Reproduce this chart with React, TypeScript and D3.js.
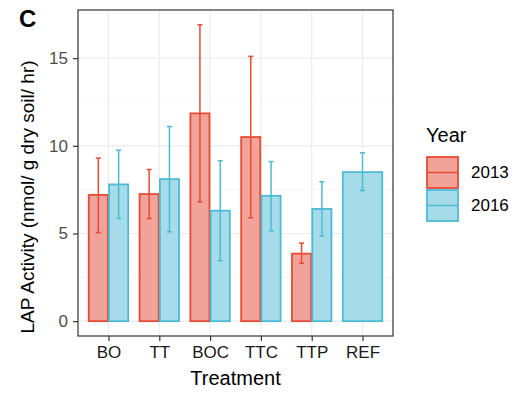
import { useEffect, useRef } from "react"
import * as d3 from "d3"

const treatments = ["BO", "TT", "BOC", "TTC", "TTP", "REF"]
const years = ["2013", "2016"]
const mean2013 = [7.2, 7.25, 11.85, 10.5, 3.85, null]
const low2013 = [5.05, 5.85, 6.8, 5.9, 3.3, null]
const high2013 = [9.3, 8.65, 16.9, 15.1, 4.45, null]
const mean2016 = [7.8, 8.1, 6.3, 7.15, 6.4, 8.5]
const low2016 = [5.85, 5.1, 3.45, 5.15, 4.85, 7.45]
const high2016 = [9.75, 11.1, 9.15, 9.1, 7.95, 9.6]
const yTicks = [0, 5, 10, 15]

const stroke = { "2013": "#E64B35", "2016": "#4DBBD5" }
const fill = { "2013": "#F2A399", "2016": "#A6DCE9" }

export default function App() {
  const svgRef = useRef<SVGSVGElement>(null)

  useEffect(() => {
    if (!svgRef.current) return
    const svg = d3.select(svgRef.current)
    svg.selectAll("*").remove()

    const left = 78
    const right = 393
    const top = 10
    const bottom = 336
    const font = "Liberation Sans, Arial, sans-serif"

    const rows = treatments.flatMap((t, i) => {
      const r: { t: string; year: string; v: number; lo: number; hi: number; n: number; k: number }[] = []
      const both = mean2013[i] != null
      if (both) r.push({ t, year: "2013", v: mean2013[i]!, lo: low2013[i]!, hi: high2013[i]!, n: 2, k: 0 })
      r.push({ t, year: "2016", v: mean2016[i], lo: low2016[i], hi: high2016[i], n: both ? 2 : 1, k: both ? 1 : 0 })
      return r
    })

    const x = d3.scalePoint().domain(treatments).range([left, right]).padding(0.6)
    const step = x.step()
    const yMax = d3.max(rows, (d) => d.hi)!
    const y = d3.scaleLinear().domain([-0.05 * yMax, 1.05 * yMax]).range([bottom, top])

    // panel background + grid
    svg.append("rect").attr("x", left).attr("y", top).attr("width", right - left).attr("height", bottom - top).attr("fill", "white")
    const minor = [2.5, 7.5, 12.5]
    svg.selectAll(".minor").data(minor).enter().append("line")
      .attr("x1", left).attr("x2", right).attr("y1", (d) => y(d)).attr("y2", (d) => y(d))
      .attr("stroke", "#F2F2F2").attr("stroke-width", 0.6)
    svg.selectAll(".hgrid").data(yTicks).enter().append("line")
      .attr("x1", left).attr("x2", right).attr("y1", (d) => y(d)).attr("y2", (d) => y(d))
      .attr("stroke", "#EBEBEB").attr("stroke-width", 1.2)
    svg.selectAll(".vgrid").data(treatments).enter().append("line")
      .attr("y1", top).attr("y2", bottom).attr("x1", (d) => x(d)!).attr("x2", (d) => x(d)!)
      .attr("stroke", "#EBEBEB").attr("stroke-width", 1.2)

    const barX = (d: any) => {
      const w = (step * 0.8) / d.n
      return x(d.t)! - step * 0.4 + d.k * w
    }
    const barW = (d: any) => (step * 0.8) / d.n

    svg.selectAll(".bar").data(rows).enter().append("rect")
      .attr("x", (d) => barX(d) + 0.6)
      .attr("width", (d) => barW(d) - 1.2)
      .attr("y", (d) => y(d.v))
      .attr("height", (d) => y(0) - y(d.v))
      .attr("fill", (d) => fill[d.year as "2013"])
      .attr("stroke", (d) => stroke[d.year as "2013"])
      .attr("stroke-width", 1.8)

    const ebar = svg.selectAll(".err").data(rows).enter().append("g")
    const cx = (d: any) => barX(d) + barW(d) / 2
    ebar.append("line")
      .attr("x1", cx).attr("x2", cx)
      .attr("y1", (d) => y(d.lo)).attr("y2", (d) => y(d.hi))
      .attr("stroke", (d) => stroke[d.year as "2013"]).attr("stroke-width", 1.5)
    ebar.selectAll("line.cap").data((d) => [{ d, v: d.lo }, { d, v: d.hi }]).enter().append("line")
      .attr("x1", (e) => cx(e.d) - 2.5).attr("x2", (e) => cx(e.d) + 2.5)
      .attr("y1", (e) => y(e.v)).attr("y2", (e) => y(e.v))
      .attr("stroke", (e) => stroke[e.d.year as "2013"]).attr("stroke-width", 1.5)

    // border
    svg.append("rect").attr("x", left).attr("y", top).attr("width", right - left).attr("height", bottom - top)
      .attr("fill", "none").attr("stroke", "#333333").attr("stroke-width", 1.2)

    // axes
    const yAxis = svg.append("g").attr("transform", `translate(${left},0)`)
      .call(d3.axisLeft(y).tickValues(yTicks).tickSize(5).tickPadding(5))
    yAxis.select(".domain").remove()
    yAxis.selectAll("line").attr("stroke", "#333333").attr("stroke-width", 1.2)
    yAxis.selectAll("text").attr("fill", "#4D4D4D").style("font-size", "17px").style("font-family", font)

    const xAxis = svg.append("g").attr("transform", `translate(0,${bottom})`)
      .call(d3.axisBottom(x).tickSize(5).tickPadding(5))
    xAxis.select(".domain").remove()
    xAxis.selectAll("line").attr("stroke", "#333333").attr("stroke-width", 1.2)
    xAxis.selectAll("text").attr("fill", "#1A1A1A").style("font-size", "17px").style("font-family", font)

    svg.append("text").attr("x", (left + right) / 2).attr("y", 385).attr("text-anchor", "middle")
      .style("font-size", "20px").style("font-family", font).text("Treatment")

    svg.append("text").attr("transform", `translate(34,197) rotate(-90)`)
      .attr("text-anchor", "middle").style("font-size", "19px").style("font-family", font)
      .text("LAP Activity (nmol/ g dry soil/ hr)")

    svg.append("text").attr("x", 19).attr("y", 27).style("font-size", "24px").style("font-weight", "bold")
      .style("font-family", font).text("C")

    // legend
    const lg = svg.append("g").attr("transform", "translate(426,0)")
    lg.append("text").attr("x", 0).attr("y", 141.5).style("font-size", "20px").style("font-family", font).text("Year")
    years.forEach((yr, i) => {
      const ky = 157 + i * 33
      lg.append("rect").attr("x", 1).attr("y", ky).attr("width", 31).attr("height", 31)
        .attr("fill", fill[yr as "2013"]).attr("stroke", stroke[yr as "2013"]).attr("stroke-width", 1.8)
      lg.append("line").attr("x1", 1).attr("x2", 32).attr("y1", ky + 15.5).attr("y2", ky + 15.5)
        .attr("stroke", stroke[yr as "2013"]).attr("stroke-width", 1.5)
      lg.append("text").attr("x", 45).attr("y", ky + 15.5).attr("dy", "0.35em")
        .style("font-size", "17px").style("font-family", font).text(yr)
    })
  }, [])

  return <svg ref={svgRef} width={517} height={393} style={{ position: "absolute", left: 0, top: 0 }} />
}
